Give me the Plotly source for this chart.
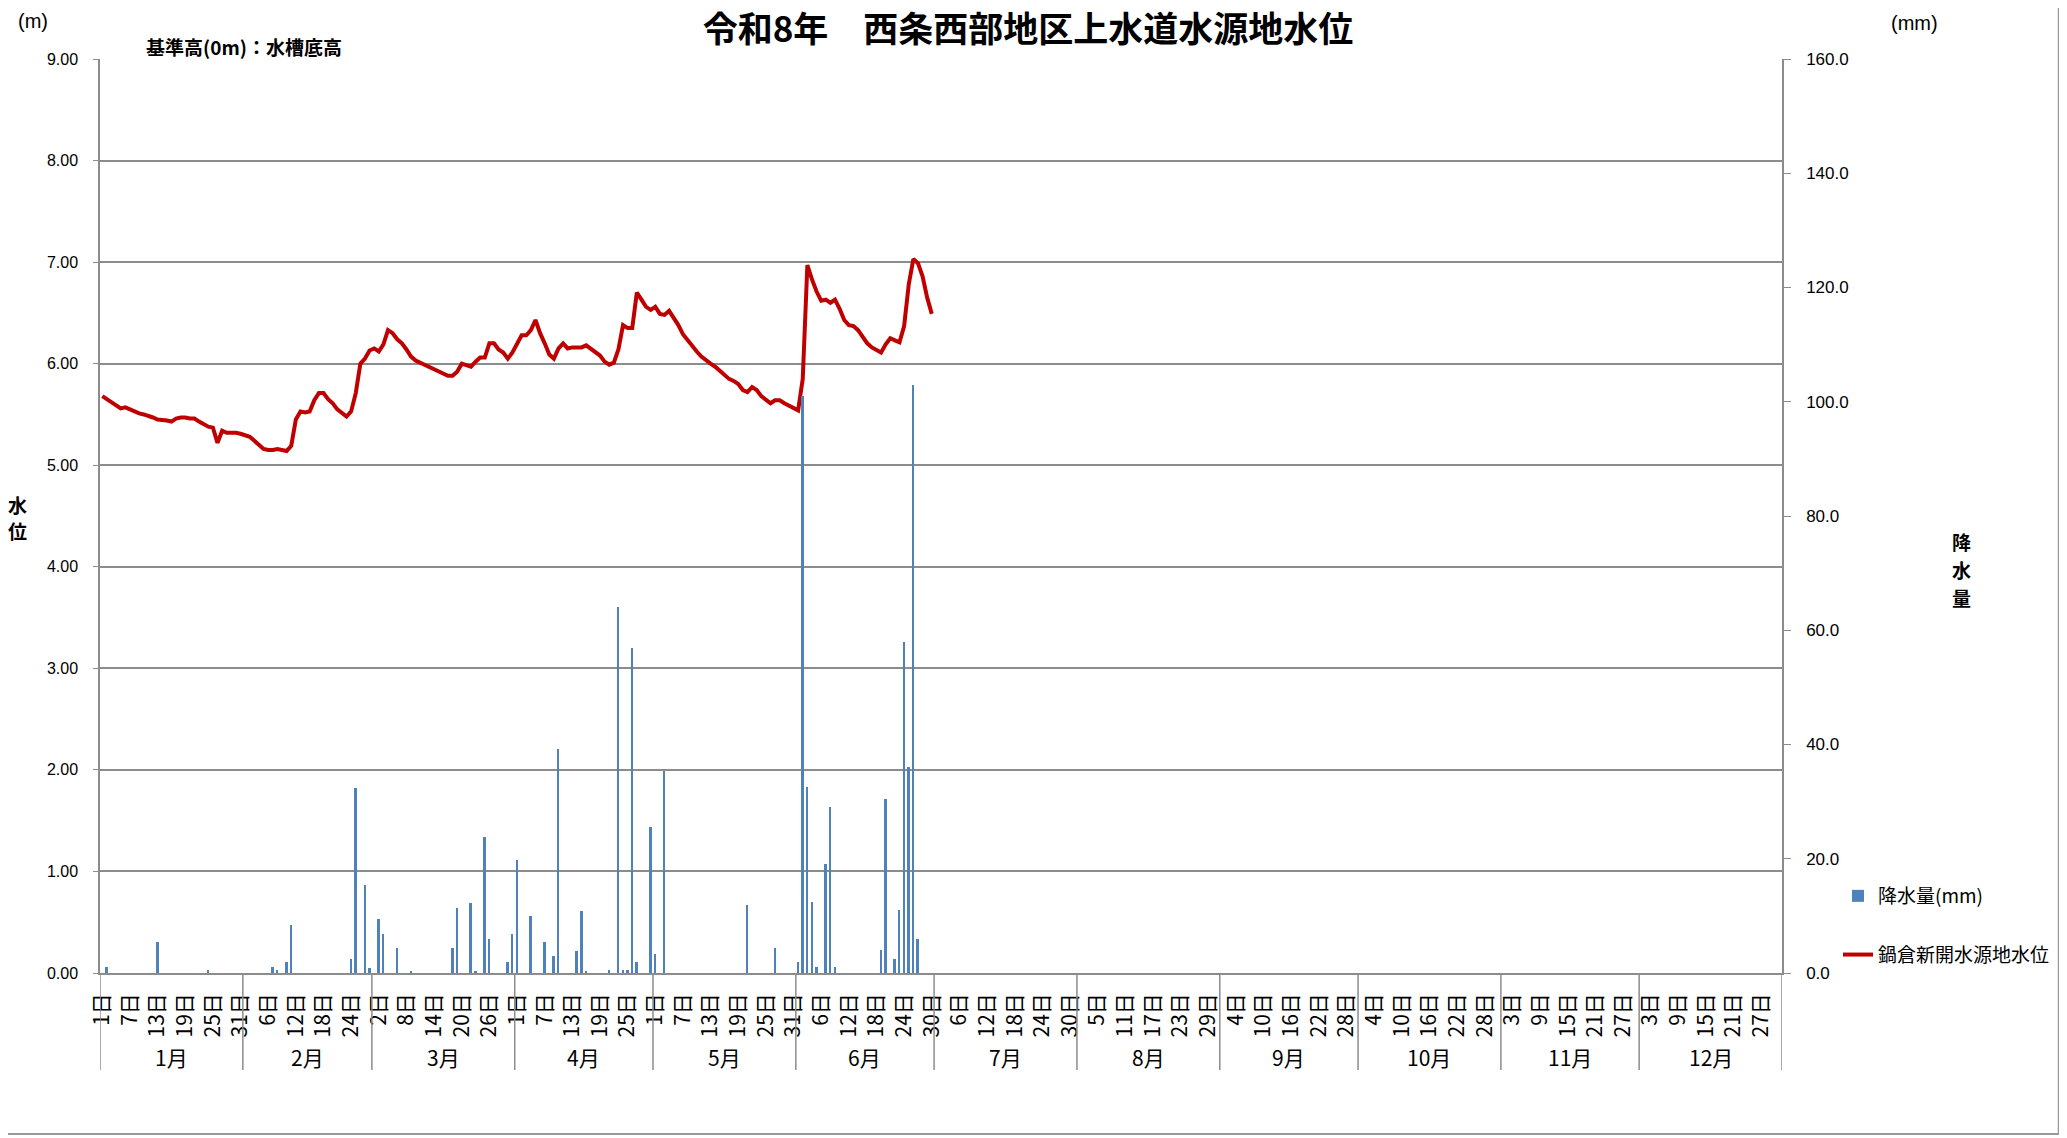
import pandas as pd
import plotly.graph_objects as go

# ---------------- data ----------------
months = ['1月', '2月', '3月', '4月', '5月', '6月', '7月', '8月', '9月', '10月', '11月', '12月']
month_days = [31, 28, 31, 30, 31, 30, 31, 31, 30, 31, 30, 31]

# 鍋倉新開水源地水位 (m), daily, Jan-Jun
level_jan = [5.68, 5.65, 5.61, 5.59, 5.56, 5.57, 5.55, 5.52, 5.51, 5.50, 5.49, 5.47, 5.45, 5.44, 5.44, 5.43,
             5.46, 5.47, 5.47, 5.46, 5.46, 5.43, 5.40, 5.38, 5.37, 5.22, 5.34, 5.32, 5.32, 5.32, 5.31]
level_feb = [5.30, 5.28, 5.24, 5.20, 5.16, 5.15, 5.15, 5.16, 5.15, 5.14, 5.19, 5.45, 5.53, 5.52, 5.53, 5.64,
             5.71, 5.71, 5.65, 5.61, 5.55, 5.51, 5.48, 5.53, 5.71, 6.00, 6.05, 6.13]
level_mar = [6.15, 6.12, 6.19, 6.33, 6.30, 6.24, 6.20, 6.14, 6.07, 6.03, 6.01, 5.98, 5.96, 5.94, 5.92, 5.90,
             5.88, 5.88, 5.92, 6.00, 5.98, 5.97, 6.02, 6.06, 6.06, 6.20, 6.20, 6.14, 6.11, 6.05, 6.11]
level_apr = [6.19, 6.28, 6.28, 6.33, 6.43, 6.30, 6.20, 6.09, 6.05, 6.15, 6.20, 6.15, 6.16, 6.16, 6.16, 6.18,
             6.15, 6.11, 6.08, 6.02, 5.99, 6.01, 6.14, 6.38, 6.35, 6.35, 6.70, 6.63, 6.56, 6.53]
level_may = [6.56, 6.49, 6.48, 6.52, 6.45, 6.38, 6.29, 6.23, 6.18, 6.12, 6.07, 6.03, 6.00, 5.97, 5.93, 5.89,
             5.85, 5.83, 5.80, 5.74, 5.72, 5.77, 5.74, 5.68, 5.64, 5.61, 5.64, 5.64, 5.61, 5.59, 5.56]
level_jun = [5.54, 5.85, 6.97, 6.83, 6.71, 6.62, 6.63, 6.60, 6.63, 6.54, 6.43, 6.38, 6.37, 6.33, 6.26, 6.20,
             6.16, 6.14, 6.11, 6.19, 6.25, 6.23, 6.21, 6.37, 6.78, 7.03, 6.99, 6.86, 6.65, 6.49]

# 降水量 (mm), daily, Jan-Jun
rain_jan = [0, 1.0, 0, 0, 0, 0, 0, 0, 0, 0, 0, 0, 5.4, 0, 0, 0, 0, 0, 0, 0, 0, 0, 0, 0.5, 0, 0, 0, 0, 0, 0, 0]
rain_feb = [0, 0, 0, 0, 0, 0, 1.0, 0.5, 0, 2.0, 8.4, 0, 0, 0, 0, 0, 0, 0, 0, 0, 0, 0, 0, 2.4, 32.3, 0, 15.4, 0.9]
rain_mar = [0, 9.4, 6.9, 0, 0, 4.4, 0, 0, 0.4, 0, 0, 0, 0, 0, 0, 0, 0, 4.4, 11.4, 0, 0, 12.3, 0.4, 0, 23.8, 5.9,
            0, 0, 0, 2.0, 6.9]
rain_apr = [19.8, 0, 0, 9.9, 0, 0, 5.4, 0, 2.9, 39.3, 0, 0, 0, 3.9, 10.9, 0.4, 0, 0, 0, 0, 0.5, 0, 64.0, 0.5,
            0.5, 56.9, 2.0, 0, 0, 25.5]
rain_may = [3.4, 0, 35.4, 0, 0, 0, 0, 0, 0, 0, 0, 0, 0, 0, 0, 0, 0, 0, 0, 0, 11.9, 0, 0, 0, 0, 0, 4.4, 0, 0, 0, 0]
rain_jun = [2.0, 101.0, 32.5, 12.5, 1.0, 0, 19.0, 29.0, 1.0, 0, 0, 0, 0, 0, 0, 0, 0, 0, 4.0, 30.4, 0, 2.5, 11.0,
            57.9, 36.0, 102.9, 6.0, 0, 0, 0]

level = level_jan + level_feb + level_mar + level_apr + level_may + level_jun
rain = rain_jan + rain_feb + rain_mar + rain_apr + rain_may + rain_jun

# ---------------- derived axes ----------------
DAY = pd.Timedelta(days=1)
HALF = pd.Timedelta(hours=12)
dates_all = pd.date_range('2026-01-01', periods=sum(month_days), freq='D')
dates_obs = dates_all[:len(level)]
tick_dates = dates_all[::6]
tick_text = [f"{d.day}日" for d in tick_dates]

month_starts = [pd.Timestamp(2026, m + 1, 1) for m in range(12)]
boundaries = [s - HALF for s in month_starts] + [dates_all[-1] + HALF]
centers = [s - HALF + DAY * (n / 2) for s, n in zip(month_starts, month_days)]

# ---------------- style ----------------
GRID = '#8c8c8c'
CJK = 'Noto Sans CJK JP'
NUM = 'Liberation Sans'
W, H = 2067, 1138
OFF = 8                      # page body margin
# plot area in page pixels: x 100..1782, y 59..973
PL, PR, PT, PB = 100, 1782, 59, 973
PW, PH = PR - PL, PB - PT


def px_x(x):
    return (x - PL) / PW


def px_y(y):
    return (PB - y) / PH


fig = go.Figure()
fig.add_trace(go.Bar(
    x=dates_obs, y=rain, name='降水量(mm)', yaxis='y2',
    marker=dict(color='#4f81bd', line=dict(width=0)),
    width=0.42 * 86400000, legendgroup='a'))
fig.add_trace(go.Scatter(
    x=dates_obs, y=level, name='鍋倉新開水源地水位', mode='lines',
    line=dict(color='#c00000', width=4), legendgroup='b'))

shapes = []
for b in boundaries:
    shapes.append(dict(type='line', xref='x', yref='paper', x0=b, x1=b, y0=0, y1=px_y(1070),
                       line=dict(color=GRID, width=1.5)))
# chart border (right / bottom)
shapes.append(dict(type='line', xref='paper', yref='paper', x0=px_x(2059), x1=px_x(2059),
                   y0=px_y(OFF), y1=px_y(1134), line=dict(color='#999999', width=2.5)))
shapes.append(dict(type='line', xref='paper', yref='paper', x0=px_x(OFF), x1=px_x(2059),
                   y0=px_y(1134), y1=px_y(1134), line=dict(color='#999999', width=2)))


def ann(x, y, text, size, xanchor='center', family=CJK, xref='paper'):
    return dict(x=x, y=y, xref=xref, yref='paper', text=text, showarrow=False,
                xanchor=xanchor, yanchor='middle', font=dict(family=family, size=size, color='black'))


annotations = [ann(c, px_y(1057), m, 21, xref='x') for c, m in zip(centers, months)]
annotations += [
    ann(px_x(33), px_y(21), '(m)', 20, family=NUM),
    ann(px_x(1914), px_y(23), '(mm)', 20, family=NUM),
    ann(px_x(144), px_y(47), '<b>基準高(0m)：水槽底高</b>', 19, xanchor='left'),
]
for ch, yy in zip('水位', [505, 530]):
    annotations.append(ann(px_x(17), px_y(yy), f'<b>{ch}</b>', 19))
for ch, yy in zip('降水量', [541, 569, 597]):
    annotations.append(ann(px_x(1961), px_y(yy), f'<b>{ch}</b>', 19))

fig.update_layout(
    width=W, height=H, autosize=False,
    margin=dict(l=PL - OFF, r=W - (PR - OFF), t=PT - OFF, b=H - (PB - OFF), pad=0),
    paper_bgcolor='white', plot_bgcolor='white',
    title=dict(text='<b>令和8年　西条西部地区上水道水源地水位</b>', x=(1028 - OFF) / W, xanchor='center',
               y=1, yanchor='top', pad=dict(t=9), font=dict(family=CJK, size=35, color='black')),
    xaxis=dict(type='date', range=[dates_all[0] - HALF, dates_all[-1] + HALF],
               tickmode='array', tickvals=tick_dates, ticktext=tick_text, tickangle=-90,
               tickfont=dict(family=CJK, size=21, color='black'), ticks='', ticklabelstandoff=10,
               showline=True, linecolor=GRID, linewidth=1.5, showgrid=False, zeroline=False),
    yaxis=dict(range=[0, 9], dtick=1, tickformat='.2f', tickfont=dict(family=NUM, size=16, color='black'),
               showgrid=True, gridcolor=GRID, gridwidth=1.5, zeroline=False,
               showline=True, linecolor=GRID, linewidth=1.5, ticks='outside', ticklen=5,
               tickcolor=GRID, ticklabelstandoff=12),
    yaxis2=dict(range=[0, 160], dtick=20, tickformat='.1f', overlaying='y', side='right',
                tickfont=dict(family=NUM, size=17, color='black'), showgrid=False, zeroline=False,
                showline=True, linecolor=GRID, linewidth=1.5, ticks='outside', ticklen=7,
                tickcolor=GRID, ticklabelstandoff=12),
    bargap=0,
    showlegend=True,
    legend=dict(x=px_x(1838), y=px_y(877), xanchor='left', yanchor='top', traceorder='grouped',
                tracegroupgap=31, font=dict(family=CJK, size=19, color='black'),
                bgcolor='rgba(0,0,0,0)', borderwidth=0),
    shapes=shapes, annotations=annotations,
)

fig.write_html('out.html')
